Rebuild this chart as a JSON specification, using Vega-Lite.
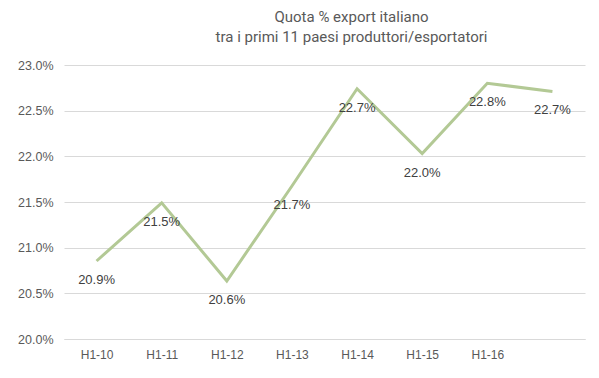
{
  "$schema": "https://vega.github.io/schema/vega-lite/v6.json",
  "width": 521,
  "height": 274,
  "autosize": {"type": "none"},
  "padding": {"left": 64, "top": 65, "right": 14, "bottom": 39},
  "background": "white",
  "title": {
    "text": ["Quota % export italiano", "tra i primi 11 paesi produttori/esportatori"],
    "font": "Roboto",
    "fontSize": 15,
    "fontWeight": "normal",
    "color": "#595959",
    "anchor": "middle",
    "dx": 27,
    "offset": 14,
    "lineHeight": 20
  },
  "data": {
    "values": [
      {"period": "H1-10", "share": 0.20854},
      {"period": "H1-11", "share": 0.2149},
      {"period": "H1-12", "share": 0.20635},
      {"period": "H1-13", "share": 0.21675},
      {"period": "H1-14", "share": 0.2274},
      {"period": "H1-15", "share": 0.2203},
      {"period": "H1-16", "share": 0.228},
      {"period": "H2-16", "share": 0.2271}
    ]
  },
  "encoding": {
    "x": {
      "field": "period",
      "type": "ordinal",
      "sort": null,
      "scale": {"type": "point", "padding": 0.5},
      "axis": {
        "title": null,
        "labelAngle": 0,
        "labelFont": "Liberation Sans",
        "labelFontSize": 12,
        "labelColor": "#595959",
        "labelPadding": 10,
        "ticks": false,
        "domainColor": "#d9d9d9",
        "grid": false,
        "labelExpr": "datum.label == 'H2-16' ? '' : datum.label"
      }
    },
    "y": {
      "field": "share",
      "type": "quantitative",
      "scale": {"domain": [0.2, 0.23], "nice": false, "zero": false},
      "axis": {
        "title": null,
        "format": ".1%",
        "values": [0.2, 0.205, 0.21, 0.215, 0.22, 0.225, 0.23],
        "labelFont": "Liberation Sans",
        "labelFontSize": 12.5,
        "labelColor": "#595959",
        "labelPadding": 11,
        "ticks": false,
        "domain": false,
        "gridColor": "#d9d9d9",
        "gridWidth": 1
      }
    }
  },
  "layer": [
    {
      "mark": {"type": "line", "color": "#b3c995", "strokeWidth": 3}
    },
    {
      "mark": {
        "type": "text",
        "dy": 19,
        "font": "Liberation Sans",
        "fontSize": 13,
        "color": "#404040"
      },
      "encoding": {
        "text": {"field": "share", "type": "quantitative", "format": ".1%"}
      }
    }
  ],
  "config": {"view": {"stroke": null}}
}
